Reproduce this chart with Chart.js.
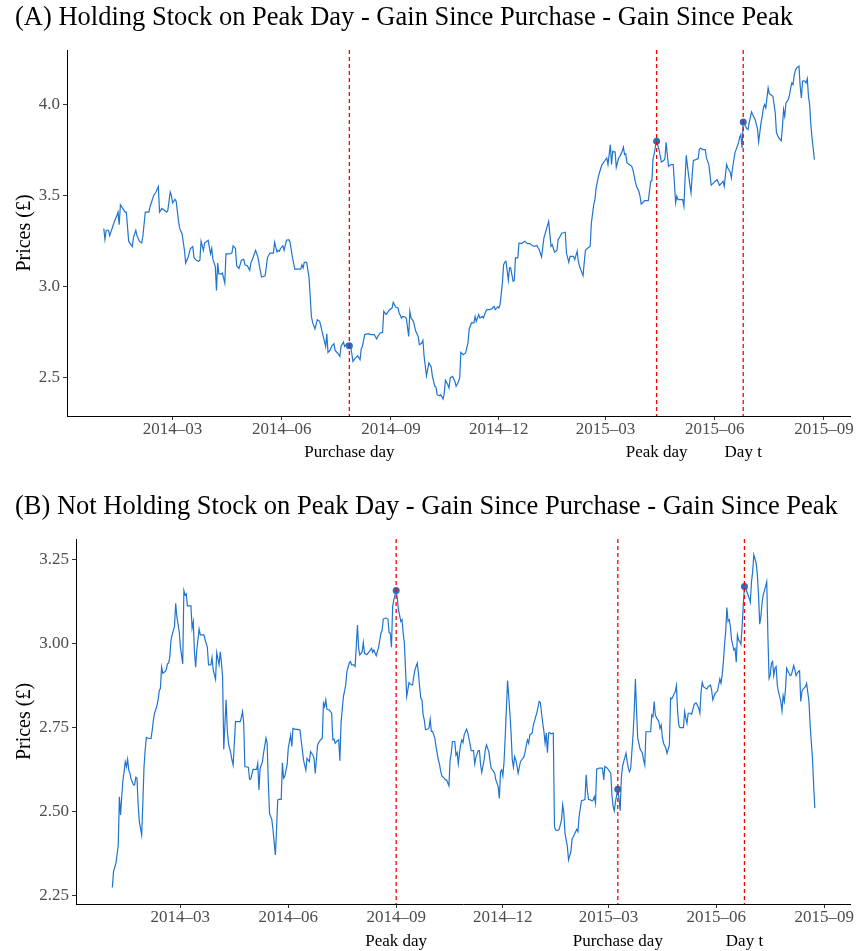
<!DOCTYPE html>
<html>
<head>
<meta charset="utf-8">
<script src="https://cdn.jsdelivr.net/npm/chart.js@4/dist/chart.umd.min.js"></script>
<style>
  body { margin: 0; background: #fff; }
  canvas { display: block; }
</style>
</head>
<body>
<canvas id="chartA" width="857" height="476"></canvas>
<canvas id="chartB" width="857" height="475"></canvas>
<script>
// days counted from startDate, prices
var startDate = '2014-01-01';
var tickLabels = ['2014-03', '2014-06', '2014-09', '2014-12', '2015-03', '2015-06', '2015-09'];

// (A) Holding stock on peak day
var dayA = [1,2,3,5,6,7,8,10,12,13,14,15,17,19,20,22,24,25,26,28,29,31,33,34,36,37,39,40,41,43,45,47,48,50,52,54,55,57,58,59,
  61,62,64,65,67,69,70,72,74,76,77,79,81,82,83,85,86,89,91,92,93,95,96,97,98,100,101,103,104,107,109,110,112,113,115,117,119,120,122,124,
  125,127,129,131,133,134,137,139,141,144,145,147,148,149,150,152,153,155,157,158,160,162,165,167,168,169,170,172,174,175,176,177,179,181,183,184,186,188,189,190,
  192,193,195,196,198,200,201,203,204,206,208,209,210,211,213,215,217,218,219,221,224,226,229,231,232,234,236,237,239,240,242,244,245,247,249,250,252,253,255,256,
  258,259,260,262,263,264,266,267,269,270,271,273,275,277,278,280,281,282,284,285,287,288,289,291,292,293,295,297,298,300,301,302,304,306,308,309,311,313,314,315,
  317,318,320,321,323,324,326,328,330,331,333,334,335,337,338,339,340,342,343,344,346,347,348,350,351,353,356,358,360,362,364,366,368,370,372,374,376,378,379,381,
  383,384,385,387,388,390,391,393,394,397,398,400,401,402,405,406,407,409,411,412,414,415,416,418,420,421,423,425,426,428,429,430,431,432,433,435,436,438,439,440,
  441,442,444,446,447,449,450,452,453,454,455,457,459,460,462,463,464,465,466,467,469,470,471,473,474,475,476,477,479,481,482,483,484,485,487,489,490,491,492,493,
  495,496,497,498,500,502,503,504,506,508,509,511,512,513,515,517,518,520,521,522,523,524,525,526,527,529,530,531,533,534,536,537,538,539,540,542,543,544,545,547,
  548,550,552,553,555,556,557,558,559,561,562,563,565,567,568,570,572,573,574,575,576,578,579,580,581,582,583,584,585,587,588,589,590,591,592,593,594,595,596,597,
  598,600];
var priceA = [3.32,3.26,3.31,3.31,3.28,3.30,3.32,3.36,3.39,3.41,3.34,3.45,3.43,3.41,3.41,3.25,3.23,3.22,3.27,3.31,3.28,3.25,3.24,3.28,3.41,3.41,3.41,3.44,3.46,3.50,3.52,3.55,3.41,3.43,3.42,3.41,3.42,3.52,3.50,3.46,
  3.48,3.47,3.36,3.32,3.29,3.20,3.13,3.16,3.21,3.22,3.16,3.145,3.14,3.145,3.25,3.20,3.24,3.255,3.18,3.21,3.15,3.11,2.98,3.13,3.07,3.07,3.075,3.02,3.18,3.18,3.185,3.225,3.21,3.115,3.10,3.145,3.15,3.12,3.115,3.09,
  3.13,3.163,3.20,3.16,3.085,3.053,3.06,3.16,3.185,3.185,3.244,3.19,3.20,3.195,3.21,3.225,3.20,3.255,3.258,3.244,3.163,3.097,3.097,3.097,3.12,3.103,3.134,3.134,3.053,2.947,2.837,2.804,2.768,2.819,2.81,2.782,2.727,2.672,2.742,2.639,
  2.654,2.672,2.687,2.65,2.636,2.617,2.672,2.696,2.672,2.687,2.676,2.672,2.636,2.59,2.608,2.621,2.599,2.658,2.673,2.737,2.742,2.737,2.737,2.713,2.727,2.746,2.749,2.865,2.847,2.856,2.874,2.883,2.914,2.889,2.883,2.856,2.828,2.837,2.834,2.828,
  2.727,2.865,2.828,2.81,2.782,2.755,2.727,2.682,2.691,2.705,2.618,2.511,2.581,2.559,2.508,2.453,2.449,2.407,2.401,2.407,2.383,2.416,2.486,2.462,2.444,2.499,2.508,2.48,2.453,2.48,2.499,2.64,2.627,2.636,2.691,2.768,2.801,2.801,2.837,2.81,
  2.847,2.828,2.837,2.828,2.865,2.874,2.874,2.878,2.892,2.874,2.889,2.883,2.901,3.02,3.121,3.134,3.14,3.035,3.103,3.103,3.03,3.035,3.158,3.158,3.24,3.237,3.25,3.237,3.237,3.226,3.222,3.227,3.204,3.163,3.268,3.314,3.359,3.222,3.231,3.189,
  3.2,3.259,3.268,3.295,3.295,3.299,3.185,3.134,3.167,3.167,3.149,3.195,3.14,3.112,3.061,3.134,3.2,3.213,3.222,3.35,3.451,3.478,3.542,3.607,3.652,3.671,3.689,3.707,3.671,3.78,3.671,3.744,3.74,3.74,3.656,3.707,3.716,3.744,3.766,3.726,
  3.729,3.68,3.671,3.661,3.643,3.579,3.552,3.524,3.497,3.454,3.46,3.473,3.473,3.473,3.579,3.583,3.704,3.729,3.771,3.799,3.753,3.722,3.685,3.693,3.704,3.793,3.726,3.661,3.671,3.671,3.57,3.46,3.497,3.478,3.478,3.478,3.442,3.597,3.722,3.661,
  3.561,3.515,3.616,3.693,3.698,3.704,3.753,3.762,3.753,3.753,3.707,3.671,3.616,3.557,3.57,3.583,3.588,3.557,3.564,3.57,3.579,3.552,3.612,3.671,3.652,3.63,3.597,3.652,3.735,3.753,3.79,3.821,3.835,3.762,3.905,3.881,3.868,3.863,3.9,3.96,
  3.945,3.918,3.868,3.795,3.9,3.936,3.982,4.0,3.982,4.092,4.059,4.055,4.046,3.955,3.845,3.817,3.802,3.872,3.973,3.936,4.009,4.028,4.052,4.092,4.119,4.11,4.165,4.187,4.202,4.211,4.101,4.037,4.128,4.132,4.128,4.119,4.143,4.046,4.0,3.89,
  3.817,3.698];
var eventLabelA = ['Purchase day', 'Peak day', 'Day t'];
var eventDayA = [208, 467, 540];
var yTicksA = [2.5, 3.0, 3.5, 4.0];

// (B) Not holding stock on peak day
var dayB = [1,2,4,6,7,8,9,10,11,12,13,14,15,16,17,19,20,21,22,23,24,26,27,28,29,30,32,34,35,36,37,39,40,41,42,43,44,46,47,48,
  49,50,51,52,54,55,56,58,59,61,62,63,64,65,67,68,69,70,71,72,73,75,76,78,79,80,82,83,85,86,87,89,90,92,93,94,95,96,98,99,
  100,102,103,104,106,107,110,111,112,113,114,115,117,118,119,121,122,124,125,126,127,129,130,132,133,134,135,137,138,140,141,142,143,145,146,147,148,150,151,153,
  154,155,157,159,161,163,164,166,167,169,170,172,173,174,176,177,178,180,181,182,183,184,186,188,189,190,191,193,194,195,196,197,198,200,201,203,204,205,207,208,
  210,211,212,214,215,216,218,220,222,223,224,226,228,230,231,232,234,236,237,238,239,240,241,243,244,245,247,248,249,250,251,252,253,254,255,257,258,259,261,262,
  263,264,265,266,267,268,270,271,272,273,274,276,277,278,279,280,281,282,284,285,286,288,289,290,291,293,294,295,296,297,298,299,300,301,303,304,305,306,307,309,
  310,311,313,314,315,316,318,319,320,322,323,324,326,327,328,330,331,332,333,334,335,336,338,339,340,341,342,343,344,345,346,347,349,350,352,353,354,355,356,357,
  359,360,362,363,365,366,367,368,369,370,371,372,373,374,375,377,378,379,381,382,384,385,386,387,389,390,392,393,394,396,397,398,399,401,403,404,405,406,407,409,
  410,411,412,413,414,416,418,419,420,421,423,424,426,427,428,429,430,432,433,434,435,436,437,438,439,440,441,442,443,444,445,446,447,448,449,451,452,453,454,455,
  456,457,459,460,461,462,463,464,465,467,468,469,470,471,473,474,476,477,478,479,480,481,482,483,484,485,487,488,489,490,491,492,494,495,497,498,499,501,502,503,
  504,505,507,508,509,511,512,513,514,515,517,518,519,520,521,522,523,524,525,526,527,528,529,531,532,533,534,535,536,537,538,539,540,541,542,544,545,546,547,548,
  550,551,552,553,554,555,556,558,559,560,561,562,563,564,565,566,567,568,569,571,572,573,574,575,576,578,579,580,582,583,584,585,586,587,588,589,590,592,593,595,
  596,598,599,600];
var priceB = [2.274,2.321,2.346,2.398,2.544,2.49,2.544,2.592,2.618,2.648,2.633,2.655,2.623,2.613,2.596,2.579,2.579,2.602,2.599,2.519,2.47,2.43,2.524,2.633,2.683,2.72,2.717,2.717,2.742,2.772,2.792,2.814,2.832,2.859,2.866,2.929,2.911,2.916,2.923,2.939,
  2.941,2.96,3.01,3.025,3.05,3.119,3.079,3.035,2.99,2.939,3.157,3.144,3.147,3.111,3.111,3.111,3.045,3.064,2.975,2.929,2.98,3.042,3.025,3.025,3.025,3.012,2.988,2.936,2.936,2.958,2.921,2.893,2.972,2.936,2.975,2.943,2.901,2.685,2.832,2.742,
  2.703,2.673,2.653,2.638,2.767,2.767,2.767,2.78,2.797,2.762,2.633,2.633,2.631,2.596,2.596,2.625,2.625,2.625,2.643,2.564,2.628,2.648,2.675,2.718,2.703,2.584,2.495,2.475,2.445,2.371,2.445,2.534,2.536,2.536,2.645,2.599,2.604,2.638,2.688,2.727,
  2.693,2.747,2.744,2.744,2.742,2.683,2.653,2.623,2.658,2.648,2.678,2.668,2.658,2.613,2.698,2.705,2.711,2.718,2.822,2.812,2.832,2.804,2.802,2.792,2.713,2.715,2.703,2.711,2.713,2.651,2.762,2.802,2.841,2.876,2.916,2.941,2.946,2.936,2.936,2.931,
  3.054,2.985,2.965,2.975,3.002,2.97,2.966,2.975,2.985,2.973,2.98,2.963,2.988,3.03,3.038,3.072,3.075,3.072,3.032,3.03,2.988,3.109,3.129,3.157,3.134,3.099,3.065,3.07,3.03,3.0,2.921,2.842,2.862,2.883,2.879,2.876,2.901,2.921,2.941,2.911,
  2.871,2.837,2.832,2.787,2.772,2.743,2.745,2.748,2.774,2.738,2.738,2.718,2.693,2.673,2.653,2.639,2.619,2.606,2.599,2.594,2.594,2.576,2.653,2.673,2.708,2.708,2.668,2.675,2.642,2.675,2.698,2.713,2.705,2.728,2.745,2.735,2.718,2.701,2.681,2.681,
  2.642,2.661,2.681,2.681,2.639,2.616,2.653,2.683,2.698,2.678,2.651,2.629,2.619,2.614,2.594,2.574,2.539,2.619,2.624,2.606,2.648,2.723,2.889,2.842,2.792,2.733,2.655,2.632,2.663,2.653,2.636,2.614,2.648,2.653,2.663,2.678,2.698,2.713,2.703,2.728,
  2.733,2.757,2.782,2.794,2.827,2.824,2.792,2.762,2.738,2.703,2.733,2.675,2.733,2.735,2.731,2.733,2.455,2.445,2.443,2.447,2.475,2.52,2.495,2.435,2.396,2.356,2.381,2.418,2.424,2.44,2.447,2.44,2.485,2.532,2.534,2.536,2.609,2.564,2.536,2.534,
  2.532,2.534,2.544,2.525,2.626,2.629,2.629,2.629,2.594,2.634,2.629,2.624,2.614,2.549,2.515,2.502,2.529,2.566,2.539,2.502,2.599,2.633,2.648,2.66,2.673,2.648,2.628,2.618,2.628,2.678,2.728,2.797,2.894,2.797,2.718,2.686,2.68,2.673,2.653,2.638,
  2.737,2.737,2.737,2.737,2.787,2.782,2.827,2.787,2.779,2.767,2.747,2.757,2.72,2.703,2.688,2.673,2.698,2.837,2.835,2.842,2.849,2.856,2.874,2.797,2.757,2.749,2.749,2.749,2.797,2.777,2.762,2.792,2.792,2.789,2.817,2.822,2.822,2.807,2.792,2.856,
  2.884,2.871,2.866,2.864,2.871,2.876,2.861,2.832,2.842,2.851,2.858,2.876,2.894,2.881,2.906,2.944,2.995,3.035,3.106,3.065,3.07,3.05,3.01,2.98,2.985,2.944,3.025,3.01,3.005,2.997,3.05,3.114,3.169,3.174,3.154,3.134,3.122,3.183,3.213,3.263,
  3.238,3.203,3.144,3.057,3.079,3.119,3.144,3.169,3.183,3.02,2.896,2.906,2.941,2.946,2.904,2.926,2.931,2.876,2.856,2.827,2.799,2.844,2.827,2.864,2.926,2.911,2.904,2.906,2.934,2.921,2.904,2.911,2.916,2.918,2.827,2.856,2.864,2.871,2.881,2.827,
  2.757,2.658,2.579,2.51];
var eventLabelB = ['Peak day', 'Purchase day', 'Day t'];
var eventDayB = [243, 432, 540];
var yTicksB = [2.25, 2.50, 2.75, 3.00, 3.25];

var FONT = '"Liberation Serif", "Times New Roman", serif';
var DAY = 86400000;
var t0 = Date.parse(startDate);
// tick positions = first day of each labelled month
var tickDays = tickLabels.map(function (s) { return (Date.parse(s + '-01') - t0) / DAY; });

// red dashed lines, title, axis title and event labels
var decorations = {
  id: 'decorations',
  afterDatasetsDraw: function (chart, args, o) {
    var ctx = chart.ctx, a = chart.chartArea, x = chart.scales.x;
    ctx.save();
    ctx.strokeStyle = '#ff0000';
    ctx.lineWidth = 1.3;
    ctx.setLineDash([4, 3]);
    o.days.forEach(function (d) {
      var px = x.getPixelForValue(d);
      ctx.beginPath();
      ctx.moveTo(px, a.top);
      ctx.lineTo(px, a.bottom);
      ctx.stroke();
    });
    ctx.restore();
  },
  afterDraw: function (chart, args, o) {
    var ctx = chart.ctx, a = chart.chartArea, x = chart.scales.x;
    ctx.save();
    ctx.fillStyle = '#000';
    ctx.textBaseline = 'middle';
    ctx.textAlign = 'left';
    ctx.font = '26.5px ' + FONT;
    ctx.fillText(o.title, 15, o.titleY);
    ctx.textAlign = 'center';
    ctx.font = '17px ' + FONT;
    o.days.forEach(function (d, i) {
      ctx.fillText(o.labels[i], x.getPixelForValue(d), a.bottom + o.labelGap);
    });
    ctx.translate(25, (a.top + a.bottom) / 2);
    ctx.rotate(-Math.PI / 2);
    ctx.font = '20px ' + FONT;
    ctx.fillText('Prices (\u00a3)', 0, 0);
    ctx.restore();
  }
};

function makeChart(id, p) {
  var series = p.days.map(function (d, i) { return { x: d, y: p.prices[i] }; });
  var dots = p.eventDays.map(function (d) { return { x: d, y: p.prices[p.days.indexOf(d)] }; });
  return new Chart(document.getElementById(id), {
    type: 'line',
    data: {
      datasets: [{
        data: series,
        borderColor: '#1f74d0',
        borderWidth: 1.2,
        pointRadius: 0,
        tension: 0
      }, {
        data: dots,
        showLine: false,
        pointRadius: 3.5,
        pointBackgroundColor: '#3569b8',
        pointBorderWidth: 0
      }]
    },
    options: {
      responsive: false,
      animation: false,
      devicePixelRatio: 1,
      layout: { padding: { top: p.top, right: 7, left: 0, bottom: 0 } },
      plugins: {
        legend: { display: false },
        tooltip: { enabled: false },
        decorations: { days: p.eventDays, labels: p.eventLabels, title: p.title, titleY: p.titleY, labelGap: p.labelGap }
      },
      scales: {
        x: {
          type: 'linear',
          min: -30,
          max: 630,
          afterBuildTicks: function (s) { s.ticks = tickDays.map(function (v) { return { value: v }; }); },
          afterFit: function (s) { s.height = p.xHeight; },
          ticks: {
            autoSkip: false,
            maxRotation: 0,
            padding: -1,
            color: '#4d4d4d',
            font: { family: FONT, size: 17 },
            callback: function (v, i) { return tickLabels[i].replace('-', '\u2013'); }
          },
          grid: { drawOnChartArea: false, drawTicks: true, tickLength: 4, tickColor: '#333' },
          border: { color: '#000', width: 1 }
        },
        y: {
          min: p.yMin,
          max: p.yMax,
          afterBuildTicks: function (s) { s.ticks = p.yTicks.map(function (v) { return { value: v }; }); },
          afterFit: function (s) { s.width = p.yWidth; },
          ticks: {
            padding: 3,
            color: '#4d4d4d',
            font: { family: FONT, size: 17 },
            callback: function (v) { return v.toFixed(p.digits); }
          },
          grid: { drawOnChartArea: false, drawTicks: true, tickLength: 4, tickColor: '#333' },
          border: { color: '#000', width: 1 }
        }
      }
    },
    plugins: [decorations]
  });
}

makeChart('chartA', {
  days: dayA, prices: priceA, eventDays: eventDayA, eventLabels: eventLabelA, yTicks: yTicksA,
  yMin: 2.29, yMax: 4.30, digits: 1, top: 50, yWidth: 67, xHeight: 60, titleY: 18, labelGap: 37,
  title: '(A) Holding Stock on Peak Day - Gain Since Purchase - Gain Since Peak'
});

makeChart('chartB', {
  days: dayB, prices: priceB, eventDays: eventDayB, eventLabels: eventLabelB, yTicks: yTicksB,
  yMin: 2.225, yMax: 3.31, digits: 2, top: 63, yWidth: 76, xHeight: 47, titleY: 31, labelGap: 38,
  title: '(B) Not Holding Stock on Peak Day - Gain Since Purchase - Gain Since Peak'
});
</script>
</body>
</html>
